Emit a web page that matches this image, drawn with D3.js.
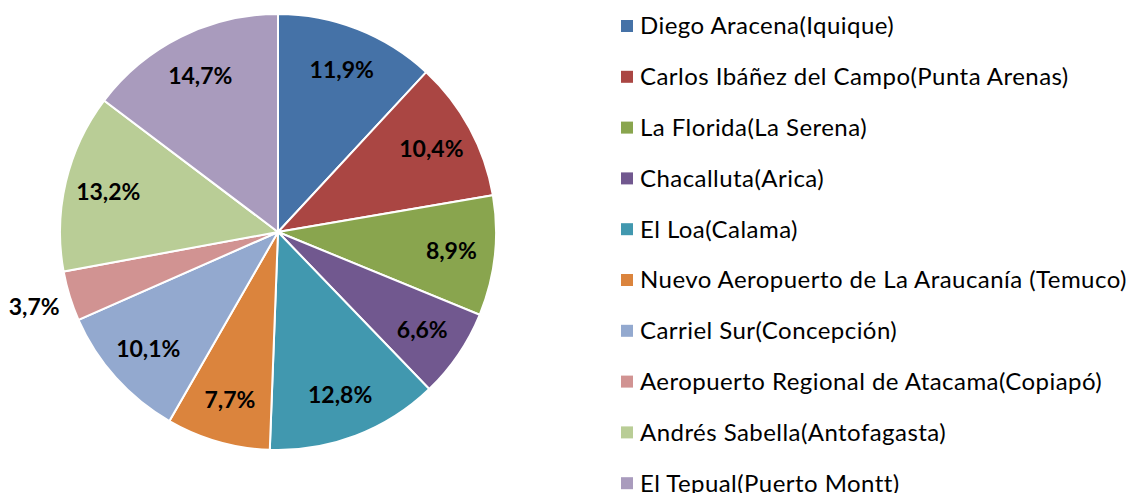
<!DOCTYPE html>
<html>
<head>
<meta charset="utf-8">
<script src="https://cdn.jsdelivr.net/npm/d3@7"></script>
<style>
  body { margin: 0; background: #fff; }
  text { font-family: Lato, "Open Sans", sans-serif; }
</style>
</head>
<body>
<div id="chart"></div>
<script>
// chart size
var svgWidth = 1129;
var svgHeight = 493;

// data
var airports = [
    "Diego Aracena(Iquique)",
    "Carlos Ibáñez del Campo(Punta Arenas)",
    "La Florida(La Serena)",
    "Chacalluta(Arica)",
    "El Loa(Calama)",
    "Nuevo Aeropuerto de La Araucanía (Temuco)",
    "Carriel Sur(Concepción)",
    "Aeropuerto Regional de Atacama(Copiapó)",
    "Andrés Sabella(Antofagasta)",
    "El Tepual(Puerto Montt)"
];
var shares = [11.9, 10.4, 8.9, 6.6, 12.8, 7.7, 10.1, 3.7, 13.2, 14.7];
var colors = ["#4572A7", "#AA4643", "#89A54E", "#71588F", "#4198AF",
              "#DB843D", "#93A9CF", "#D19392", "#B9CD96", "#A99BBD"];

var data = airports.map(function(name, i) {
    return { name: name, value: shares[i], color: colors[i] };
});

var svg = d3.select("#chart")
    .append("svg")
    .attr("width", svgWidth)
    .attr("height", svgHeight);

// pie
var cx = 278, cy = 232, radius = 218;

var pie = d3.pie()
    .sort(null)
    .value(d => d.value);

var arc = d3.arc()
    .innerRadius(0)
    .outerRadius(radius);

var labelArc = d3.arc()
    .innerRadius(radius * 0.8)
    .outerRadius(radius * 0.8);

var outerArc = d3.arc()
    .innerRadius(radius * 1.17)
    .outerRadius(radius * 1.17);

var pieGroup = svg.append("g")
    .attr("transform", `translate(${cx}, ${cy})`);

var arcs = pie(data);

pieGroup.selectAll("path")
    .data(arcs)
    .enter()
    .append("path")
    .attr("d", arc)
    .attr("fill", d => d.data.color)
    .attr("stroke", "#fff")
    .attr("stroke-width", 2);

// percentage labels (small slice goes outside)
pieGroup.selectAll("text.pct")
    .data(arcs)
    .enter()
    .append("text")
    .attr("class", "pct")
    .attr("transform", function(d) {
        var p = d.data.value < 5 ? outerArc.centroid(d) : labelArc.centroid(d);
        return `translate(${p[0]}, ${p[1]})`;
    })
    .attr("text-anchor", "middle")
    .attr("dy", "0.35em")
    .style("font-size", "23px")
    .style("font-weight", "bold")
    .attr("fill", "#000")
    .text(d => d3.format(".1f")(d.data.value).replace(".", ",") + "%");

// legend
var legendX = 621, legendY = 26, legendStep = 50.8;

var legend = svg.append("g")
    .attr("transform", `translate(${legendX}, ${legendY})`);

var items = legend.selectAll("g")
    .data(data)
    .enter()
    .append("g")
    .attr("transform", (d, i) => `translate(0, ${i * legendStep})`);

items.append("rect")
    .attr("x", 0)
    .attr("y", -6)
    .attr("width", 12)
    .attr("height", 12)
    .attr("fill", d => d.color);

items.append("text")
    .attr("x", 19)
    .attr("dy", "0.35em")
    .style("font-size", "24px")
    .style("letter-spacing", "0.45px")
    .attr("fill", "#000")
    .text(d => d.name);
</script>
</body>
</html>
